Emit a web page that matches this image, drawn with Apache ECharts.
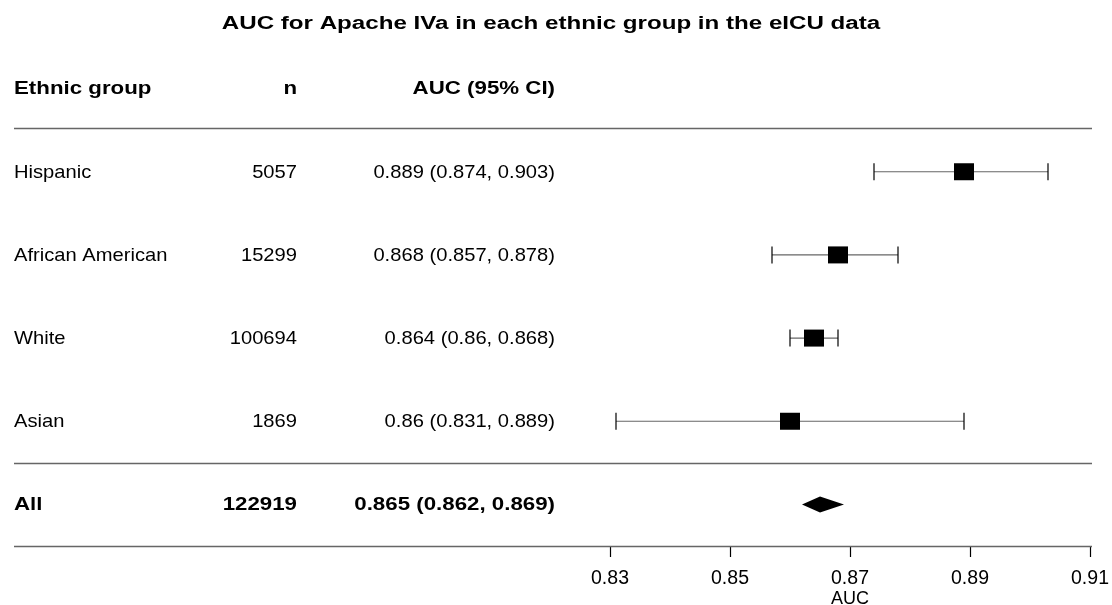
<!DOCTYPE html>
<html>
<head>
<meta charset="utf-8">
<script src="https://cdn.jsdelivr.net/npm/echarts@6/dist/echarts.min.js"></script>
<style>html,body{margin:0;padding:0;background:#fff}#c{width:1112px;height:605px}</style>
</head>
<body>
<div id="c"></div>
<script>
var groups = ['Hispanic', 'African American', 'White', 'Asian'];
var nValues = [5057, 15299, 100694, 1869];
var auc = [0.889, 0.868, 0.864, 0.86];
var lower = [0.874, 0.857, 0.86, 0.831];
var upper = [0.903, 0.878, 0.868, 0.889];
var overallLabel = 'All';
var overallN = 122919;
var overallAuc = 0.865;
var overallLower = 0.862;
var overallUpper = 0.869;
var headers = ['Ethnic group', 'n', 'AUC (95% CI)'];
var tickValues = [0.83, 0.85, 0.87, 0.89, 0.91];
var titleText = 'AUC for Apache IVa in each ethnic group in the eICU data';
var axisTitle = 'AUC';

var FONT = '"Liberation Sans", Arial, sans-serif';
var FS = 17.7;
var colX = [14, 297, 555];
var colAlign = ['left', 'right', 'right'];

function fmtCI(a, l, u) { return a + ' (' + l + ', ' + u + ')'; }

// table cells: [x anchor, row, column, bold]
var cellPos = [];
var cellText = [];
headers.forEach(function (h, j) { cellPos.push([colX[j], 0, j, 1]); cellText.push(h); });
groups.forEach(function (g, i) {
  [g, String(nValues[i]), fmtCI(auc[i], lower[i], upper[i])].forEach(function (c, j) {
    cellPos.push([colX[j], i + 1, j, 0]); cellText.push(c);
  });
});
var allRow = groups.length + 1;
[overallLabel, String(overallN), fmtCI(overallAuc, overallLower, overallUpper)].forEach(function (c, j) {
  cellPos.push([colX[j], allRow, j, 1]); cellText.push(c);
});

var ciData = groups.map(function (g, i) { return [lower[i], upper[i], i + 1]; });
var boxData = groups.map(function (g, i) { return [auc[i], i + 1]; });
var diamondData = [[overallLower, overallAuc, overallUpper, allRow]];

var chart = echarts.init(document.getElementById('c'), null, { renderer: 'canvas' });
var yAx = { type: 'value', min: -0.5, max: allRow + 0.5, inverse: true, show: false };
var gTop = 47, gBottom = 59;

chart.setOption({
  animation: false,
  backgroundColor: '#fff',
  graphic: [{
    type: 'text', x: 551, y: 24, scaleX: 1.285, originX: 0, originY: 0,
    style: {
      text: titleText, x: 0, y: 0, align: 'center', verticalAlign: 'middle',
      font: 'bold 18.8px ' + FONT, fill: '#000'
    }
  }],
  grid: [
    { left: 0, right: 0, top: gTop, bottom: gBottom, outerBoundsMode: 'none', containLabel: false },
    { left: 610, right: 22, top: gTop, bottom: gBottom, outerBoundsMode: 'none', containLabel: false }
  ],
  xAxis: [
    { gridIndex: 0, type: 'value', min: 0, max: 1112, show: false },
    {
      gridIndex: 1, type: 'value', position: 'bottom',
      min: tickValues[0], max: tickValues[tickValues.length - 1],
      splitLine: { show: false },
      axisLine: { show: false, onZero: false },
      axisTick: { show: true, length: 11, lineStyle: { color: '#000', width: 1.2 }, customValues: tickValues },
      axisLabel: {
        customValues: tickValues, margin: 23, color: '#000', fontFamily: FONT, fontSize: 19.5,
        formatter: function (v) { return String(+v.toFixed(2)); }
      },
      name: axisTitle, nameLocation: 'middle', nameGap: 53, nameMoveOverlap: false,
      nameTextStyle: { fontFamily: FONT, fontSize: 18, color: '#000', verticalAlign: 'middle' }
    }
  ],
  yAxis: [
    Object.assign({ gridIndex: 0 }, yAx),
    Object.assign({ gridIndex: 1 }, yAx)
  ],
  series: [
    {
      type: 'custom', xAxisIndex: 0, yAxisIndex: 0, silent: true,
      data: cellPos,
      renderItem: function (params, api) {
        var p = api.coord([api.value(0), api.value(1)]);
        var col = api.value(2);
        var bold = api.value(3) === 1;
        return {
          type: 'text', x: p[0], y: p[1] + 1, scaleX: bold ? 1.26 : 1.14,
          style: {
            text: cellText[params.dataIndex], x: 0, y: 0,
            align: colAlign[col], verticalAlign: 'middle',
            font: (bold ? 'bold ' : '') + FS + 'px ' + FONT, fill: '#000'
          }
        };
      },
      markLine: {
        silent: true, symbol: 'none', label: { show: false },
        lineStyle: { color: '#666', width: 1.4, type: 'solid' },
        data: [0.48, groups.length + 0.5, allRow + 0.5].map(function (y) {
          return [{ coord: [14, y] }, { coord: [1092, y] }];
        })
      }
    },
    {
      type: 'custom', xAxisIndex: 1, yAxisIndex: 1, silent: true,
      data: ciData,
      renderItem: function (params, api) {
        var p1 = api.coord([api.value(0), api.value(2)]);
        var p2 = api.coord([api.value(1), api.value(2)]);
        var h = 8.5;
        return {
          type: 'group', children: [
            { type: 'line', shape: { x1: p1[0], y1: p1[1], x2: p2[0], y2: p2[1] }, style: { stroke: '#666', lineWidth: 1.2 } },
            { type: 'line', shape: { x1: p1[0], y1: p1[1] - h, x2: p1[0], y2: p1[1] + h }, style: { stroke: '#000', lineWidth: 1.2 } },
            { type: 'line', shape: { x1: p2[0], y1: p2[1] - h, x2: p2[0], y2: p2[1] + h }, style: { stroke: '#000', lineWidth: 1.2 } }
          ]
        };
      }
    },
    {
      type: 'scatter', xAxisIndex: 1, yAxisIndex: 1, silent: true, z: 5,
      symbol: 'rect', symbolSize: [20, 17],
      itemStyle: { color: '#000', opacity: 1 },
      data: boxData
    },
    {
      type: 'custom', xAxisIndex: 1, yAxisIndex: 1, silent: true,
      data: diamondData,
      renderItem: function (params, api) {
        var l = api.coord([api.value(0), api.value(3)]);
        var m = api.coord([api.value(1), api.value(3)]);
        var r = api.coord([api.value(2), api.value(3)]);
        var h = 8;
        return {
          type: 'polygon',
          shape: { points: [[l[0], l[1]], [m[0], m[1] - h], [r[0], r[1]], [m[0], m[1] + h]] },
          style: { fill: '#000' }
        };
      }
    }
  ]
});
</script>
</body>
</html>
